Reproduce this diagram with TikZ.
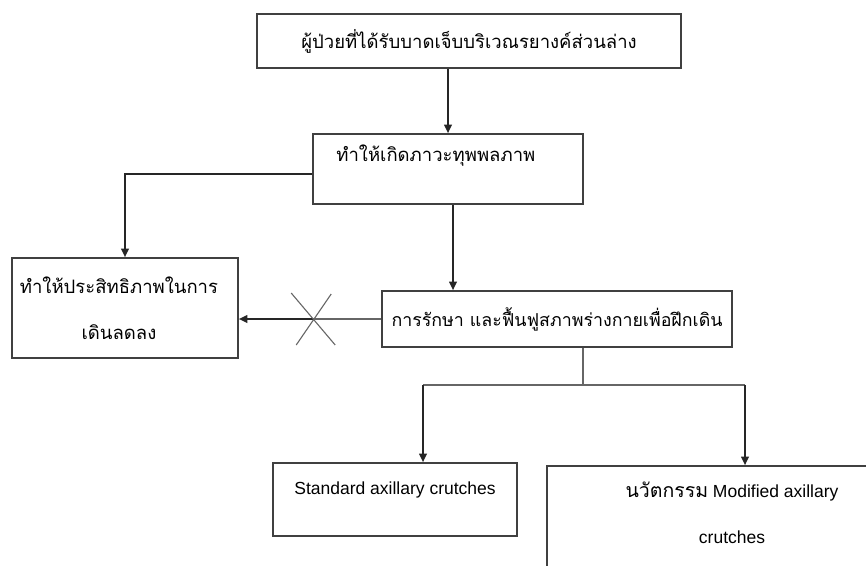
\documentclass[tikz,border=0pt]{standalone}
\usepackage{fontspec}
\setmainfont{Liberation Sans}
\newfontfamily\thai[Script=Thai]{Loma}
\usetikzlibrary{arrows.meta}

\begin{document}
\begin{tikzpicture}[x=1pt, y=1pt, >={Triangle[length=8.5pt,width=7.5pt]},
    box/.style={rectangle, draw=black!75, line width=1.6pt, inner sep=0pt, align=center, font=\thai\fontsize{18.5}{22}\selectfont},
    lbl/.style={inner sep=0pt, align=center, font=\fontsize{17.5}{21}\selectfont},
    arr/.style={->, line width=1.8pt, draw=black!85},
    link/.style={line width=1.1pt, draw=black!60}]
    \path[use as bounding box, clip] (0,0) rectangle (866,-565);

    \node[box, minimum width=424pt, minimum height=54pt] (patient) at (469,-41) {ผู้ป่วยที่ได้รับบาดเจ็บบริเวณรยางค์ส่วนล่าง};
    \node[box, minimum width=270pt, minimum height=70pt,
        label={[lbl, font=\thai\fontsize{18.5}{22}\selectfont, anchor=north west, xshift=24pt, yshift=-11pt]north west:ทำให้เกิดภาวะทุพพลภาพ}] (impair) at (448,-169) {};
    \node[box, minimum width=226pt, minimum height=100pt] (reduce) at (125,-308) {ทำให้ประสิทธิภาพในการ\hspace*{12pt}\\[24pt]เดินลดลง\hspace*{12pt}};
    \node[box, minimum width=350pt, minimum height=56pt, font=\thai\fontsize{17.8}{21}\selectfont] (treat) at (557,-319) {การรักษา และฟื้นฟูสภาพร่างกายเพื่อฝึกเดิน};
    \node[box, minimum width=244pt, minimum height=73pt,
        label={[lbl, anchor=north, yshift=-19pt]north:Standard axillary crutches}] (std) at (395,-499.5) {};
    \node[box, minimum width=370pt, minimum height=134pt,
        label={[lbl, anchor=north, yshift=-17pt]north:{\thai\fontsize{19.5}{22}\selectfont นวัตกรรม} Modified axillary\\[25pt]crutches}] (mod) at (732,-533) {};

    \draw[arr] (patient.south -| impair.north) -- (impair.north);
    \draw[arr] ([yshift=-5pt]impair.west) -| (reduce.north);
    \draw[arr] ([xshift=5pt]impair.south) -- ([xshift=5pt]impair.south |- treat.north);

    % blocked path
    \path (treat.west) ++(-68,0) coordinate (cut);
    \draw[link] (treat.west) -- (cut);
    \draw[arr] (cut) -- (cut -| reduce.east);
    \draw[link] ([shift={(-22,26)}]cut) -- ([shift={(22,-26)}]cut);
    \draw[link] ([shift={(18,25)}]cut) -- ([shift={(-17,-26)}]cut);

    % branch to the two crutches
    \coordinate (brM) at (583,-385);
    \coordinate (brL) at (423,-385);
    \coordinate (brR) at (745,-385);
    \draw[link] (brM |- treat.south) -- (brM);
    \draw[link] (brL) -- (brR);
    \draw[arr] (brL) -- (brL |- std.north);
    \draw[arr] (brR) -- (brR |- mod.north);
\end{tikzpicture}
\end{document}
